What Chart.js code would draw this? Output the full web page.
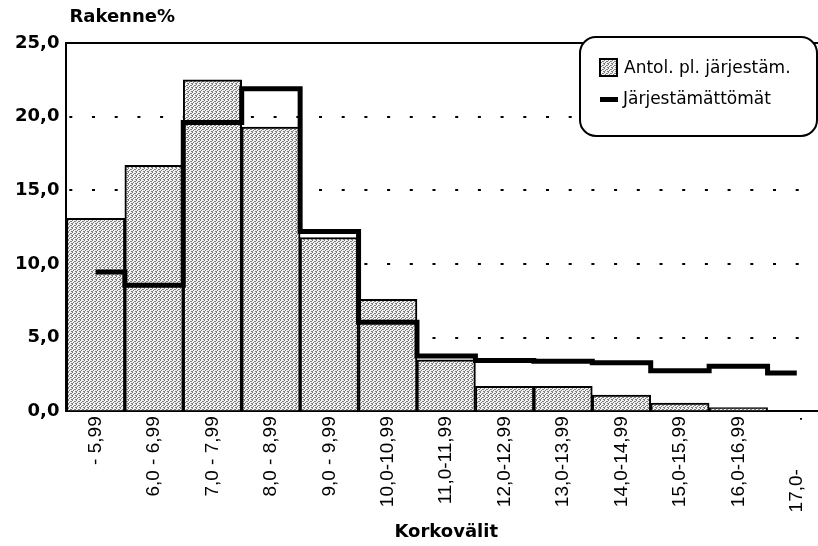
<!DOCTYPE html>
<html>
<head>
<meta charset="utf-8">
<script src="https://cdn.jsdelivr.net/npm/chart.js@4/dist/chart.umd.min.js"></script>
<style>
  html, body { margin: 0; padding: 0; background: #fff; overflow: hidden; }
</style>
</head>
<body>
<canvas id="korot" width="840" height="546"></canvas>
<script>
// korkovälit (interest rate bands)
var categories = ["- 5,99", "6,0 - 6,99", "7,0 - 7,99", "8,0 - 8,99", "9,0 - 9,99",
  "10,0-10,99", "11,0-11,99", "12,0-12,99", "13,0-13,99", "14,0-14,99",
  "15,0-15,99", "16,0-16,99", "17,0-         ."];

// rakenne % per band
var antolValues = [13.1, 16.7, 22.5, 19.3, 11.8, 7.6, 3.5, 1.7, 1.7, 1.1, 0.55, 0.25, 0];
var jarjValues = [9.45, 8.55, 19.6, 21.9, 12.2, 6.05, 3.75, 3.45, 3.4, 3.3, 2.75, 3.05, 2.6];

var seriesNames = ["Antol. pl. järjestäm.", "Järjestämättömät"];
var yTitle = "Rakenne%";
var xTitle = "Korkovälit";
var yMax = 25;
var yStep = 5;

function stipple(ctx) {
  //small dotted tile so the bars look like the printed grey
  var c = document.createElement('canvas');
  c.width = 4;
  c.height = 4;
  var p = c.getContext('2d');
  p.fillStyle = '#f2f2f2';
  p.fillRect(0, 0, 4, 4);
  p.fillStyle = '#7c7c7c';
  [[0, 0], [2, 1], [1, 2], [3, 3], [3, 1], [0, 3]].forEach(function(d) {
    p.fillRect(d[0], d[1], 1, 1);
  });
  return ctx.createPattern(c, 'repeat');
}

var ctx = document.getElementById("korot").getContext('2d');
var greyFill = stipple(ctx);

// y label at top left and the rounded legend box
var extras = {
  id: 'extras',
  afterDraw: function(chart) {
    var c = chart.ctx;
    var a = chart.chartArea;
    c.save();
    c.fillStyle = '#000';
    c.font = 'bold 18px "DejaVu Sans"';
    c.textBaseline = 'middle';
    c.textAlign = 'left';
    c.fillText(yTitle, a.left + 3, 17);

    var bx = a.right - 246, by = a.top - 6, bw = 237, bh = 99, r = 16;
    c.beginPath();
    c.roundRect(bx, by, bw, bh, r);
    c.fillStyle = '#fff';
    c.fill();
    c.lineWidth = 2;
    c.strokeStyle = '#000';
    c.stroke();

    //swatch 1
    c.fillStyle = greyFill;
    c.fillRect(bx + 20, by + 22, 17, 17);
    c.lineWidth = 2;
    c.strokeRect(bx + 20, by + 22, 17, 17);
    //swatch 2
    c.fillStyle = '#000';
    c.fillRect(bx + 20, by + 60, 18, 5);

    c.font = '17px "DejaVu Sans"';
    c.fillText(seriesNames[0], bx + 44, by + 32);
    c.fillText(seriesNames[1], bx + 43, by + 63);
    c.restore();
  }
};

var chart = new Chart(ctx, {
  type: 'bar',
  data: {
    labels: categories,
    datasets: [{
      type: 'line',
      label: seriesNames[1],
      data: jarjValues,
      stepped: 'middle',
      borderColor: '#000',
      borderWidth: 5,
      borderCapStyle: 'butt',
      borderJoinStyle: 'miter',
      pointRadius: 0,
      fill: false,
      order: 0
    }, {
      label: seriesNames[0],
      data: antolValues,
      backgroundColor: greyFill,
      borderColor: '#000',
      borderWidth: 2,
      categoryPercentage: 1,
      barPercentage: 1,
      order: 1
    }]
  },
  options: {
    responsive: false,
    animation: false,
    layout: {
      padding: { top: 43, right: 14, left: 8, bottom: 3 }
    },
    plugins: {
      legend: { display: false },
      tooltip: { enabled: false }
    },
    scales: {
      x: {
        grid: { display: false, drawTicks: false },
        border: { display: true, color: '#000', width: 2 },
        ticks: {
          autoSkip: false,
          maxRotation: 90,
          minRotation: 90,
          padding: 5,
          color: '#000',
          font: { family: 'Liberation Sans', size: 19 }
        },
        title: {
          display: true,
          text: xTitle,
          color: '#000',
          font: { family: 'DejaVu Sans', size: 18, weight: 'bold' },
          padding: { top: 4, bottom: 0 }
        }
      },
      xTop: {
        position: 'top',
        grid: { display: false, drawTicks: false },
        border: { display: true, color: '#000', width: 2 },
        ticks: { display: false }
      },
      y: {
        min: 0,
        max: yMax,
        ticks: {
          stepSize: yStep,
          padding: 7,
          color: '#000',
          font: { family: 'DejaVu Sans', size: 18, weight: 'bold' },
          callback: function(v) { return v.toFixed(1).replace('.', ','); }
        },
        grid: {
          drawTicks: false,
          lineWidth: 2,
          color: function(c) {
            return (c.tick.value === 0 || c.tick.value === yMax) ? 'rgba(0,0,0,0)' : '#000';
          }
        },
        border: { display: true, color: '#000', width: 2, dash: [3, 19.7], dashOffset: 20.4 }
      }
    }
  },
  plugins: [extras]
});
</script>
</body>
</html>
